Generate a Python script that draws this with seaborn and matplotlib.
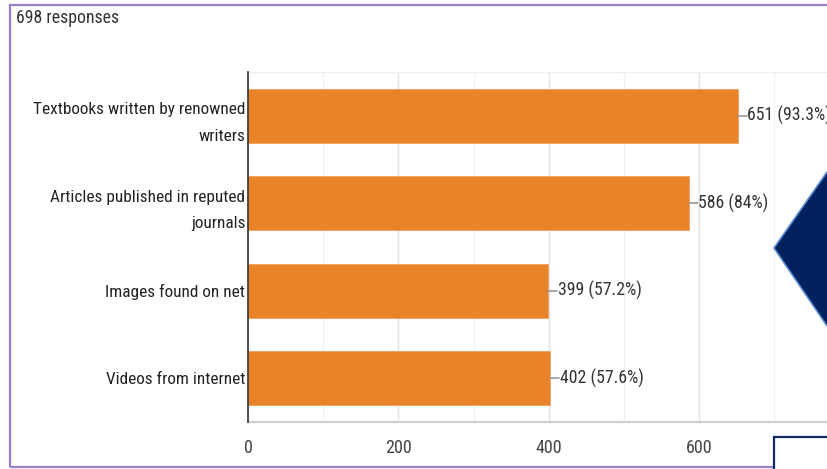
import matplotlib
matplotlib.use("Agg")
import matplotlib.pyplot as plt
import seaborn as sns
import pandas as pd
from matplotlib.patches import Polygon, Rectangle

categories = ["Textbooks written by renowned\nwriters",
              "Articles published in reputed\njournals",
              "Images found on net",
              "Videos from internet"]
counts = [651, 586, 399, 402]
percents = ["93.3%", "84%", "57.2%", "57.6%"]
total_responses = 698

df = pd.DataFrame({"source": categories, "count": counts})

sns.set_theme(style="white")
plt.rcParams["font.family"] = ["Roboto Condensed", "Archivo Narrow",
                               "IBM Plex Sans Condensed", "DejaVu Sans"]
FS = 12.4

W, H = 827, 469
fig = plt.figure(figsize=(W / 100, H / 100), dpi=100)
fig.patch.set_facecolor("white")

ax = fig.add_axes([248 / W, 1 - 422 / H, 1 - 248 / W, (422 - 72) / H])
sns.barplot(data=df, x="count", y="source", orient="h", ax=ax,
            color="#E8832A", width=0.62, edgecolor="#F0A060", linewidth=0.6,
            saturation=1, zorder=3)
ax.set_xlim(0, 770)
ax.set_ylim(3.5, -0.5)
ax.set_xlabel("")
ax.set_ylabel("")

ax.set_xticks([0, 200, 400, 600])
ax.set_xticks([100, 300, 500, 700], minor=True)
ax.grid(axis="x", which="major", color="#E3E3E3", linewidth=1, zorder=0)
ax.grid(axis="x", which="minor", color="#F2F2F2", linewidth=1, zorder=0)
ax.grid(axis="y", visible=False)
ax.tick_params(axis="x", which="both", length=0, labelsize=FS + 0.6,
               labelcolor="#444444", pad=12)
ax.tick_params(axis="y", length=0, labelsize=FS, labelcolor="#222222", pad=2)
for lab in ax.get_yticklabels():
    lab.set_linespacing(1.95)

ax.spines["right"].set_visible(False)
ax.spines["top"].set_color("#EEEEEE")
ax.spines["top"].set_linewidth(1)
ax.spines["bottom"].set_color("#D0D0D0")
ax.spines["bottom"].set_linewidth(1.6)
ax.spines["left"].set_color("#333333")
ax.spines["left"].set_linewidth(1.2)
ax.spines["left"].set_zorder(5)

for i, (c, p) in enumerate(zip(counts, percents)):
    ax.plot([c, c + 12], [i, i], color="#999999", linewidth=1.2, zorder=4,
            clip_on=False)
    ax.text(c + 13, i, f"{c} ({p})", va="center", ha="left", fontsize=FS + 0.4,
            color="#333333", zorder=4, clip_on=False)

fig.text(16 / W, 1 - 18 / H, f"{total_responses} responses", ha="left",
         va="center", fontsize=FS + 0.4, color="#333333")

# purple frame of the screenshot
frame = Rectangle((10 / W, 1 - 467 / H), 1.2, (467 - 5) / H,
                  transform=fig.transFigure, fill=False,
                  edgecolor="#9B7FC8", linewidth=1.6, zorder=10)
fig.patches.append(frame)

# decorative navy diamond (partially visible)
diamond = Polygon([(774 / W, 1 - 248 / H), (827 / W, 1 - 172 / H),
                   (880 / W, 1 - 248 / H), (827 / W, 1 - 326 / H)],
                  closed=True, transform=fig.transFigure,
                  facecolor="#03205F", edgecolor="#5B8ED0", linewidth=1.2,
                  zorder=11)
fig.patches.append(diamond)

# bottom-right box
box = Rectangle((774 / W, -0.05), 0.5, (0.05 + 1 - 437 / H),
                transform=fig.transFigure, facecolor="white",
                edgecolor="#0B2A66", linewidth=1.6, zorder=12)
fig.patches.append(box)

fig.savefig("out.png", dpi=100)
